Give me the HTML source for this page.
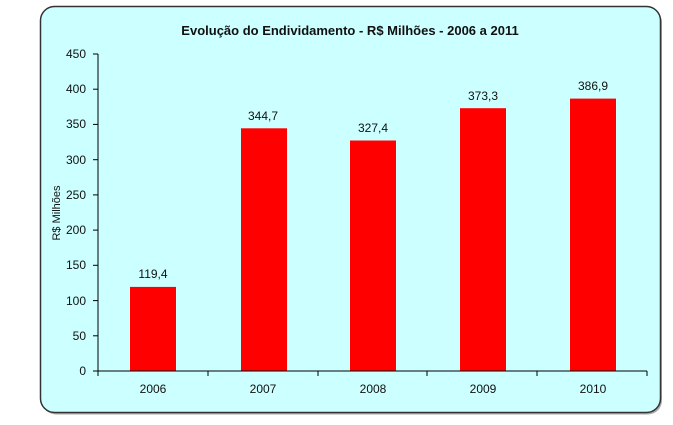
<!DOCTYPE html>
<html><head><style>body{margin:0;background:#fff}</style></head><body>
<svg width="673" height="420" xmlns="http://www.w3.org/2000/svg" font-family="Liberation Sans, sans-serif">
<rect x="42" y="8.5" width="620" height="406" rx="14" fill="#aaa"/>
<rect x="40.5" y="6.5" width="620" height="406" rx="14" fill="#ccffff" stroke="#333" stroke-width="1.5"/>
<text x="350" y="35" text-anchor="middle" font-size="13" font-weight="bold" fill="#111">Evolução do Endividamento - R$ Milhões - 2006 a 2011</text>
<g fill="#ff0000">
<rect x="130" y="286.9" width="46" height="84.1"/>
<rect x="241" y="128.3" width="46" height="242.7"/>
<rect x="350" y="140.5" width="46" height="230.5"/>
<rect x="460" y="108.2" width="46" height="262.8"/>
<rect x="570" y="98.6" width="46" height="272.4"/>
</g>
<g stroke="#000" stroke-width="1">
<line x1="98" y1="54" x2="98" y2="371"/>
<line x1="98" y1="371" x2="647" y2="371"/>
<line x1="93" y1="54" x2="98" y2="54"/><line x1="93" y1="89.2" x2="98" y2="89.2"/><line x1="93" y1="124.4" x2="98" y2="124.4"/><line x1="93" y1="159.7" x2="98" y2="159.7"/><line x1="93" y1="194.9" x2="98" y2="194.9"/><line x1="93" y1="230.1" x2="98" y2="230.1"/><line x1="93" y1="265.3" x2="98" y2="265.3"/><line x1="93" y1="300.6" x2="98" y2="300.6"/><line x1="93" y1="335.8" x2="98" y2="335.8"/><line x1="93" y1="371" x2="98" y2="371"/>
<line x1="98" y1="371" x2="98" y2="376"/><line x1="208" y1="371" x2="208" y2="376"/><line x1="318" y1="371" x2="318" y2="376"/><line x1="427" y1="371" x2="427" y2="376"/><line x1="537" y1="371" x2="537" y2="376"/><line x1="647" y1="371" x2="647" y2="376"/>
</g>
<g font-size="12" fill="#111" text-anchor="end">
<text x="86" y="58">450</text><text x="86" y="93">400</text><text x="86" y="128">350</text><text x="86" y="164">300</text><text x="86" y="199">250</text><text x="86" y="234">200</text><text x="86" y="269">150</text><text x="86" y="305">100</text><text x="86" y="340">50</text><text x="86" y="375">0</text>
</g>
<g font-size="12" fill="#111" text-anchor="middle">
<text x="153" y="393">2006</text><text x="263" y="393">2007</text><text x="373" y="393">2008</text><text x="483" y="393">2009</text><text x="593" y="393">2010</text>
<text x="153" y="278">119,4</text><text x="263" y="120">344,7</text><text x="373" y="132">327,4</text><text x="483" y="100">373,3</text><text x="593" y="90">386,9</text>
</g>
<text transform="translate(60,213) rotate(-90)" font-size="11" fill="#111" text-anchor="middle">R$ Milhões</text>
</svg>
</body></html>
